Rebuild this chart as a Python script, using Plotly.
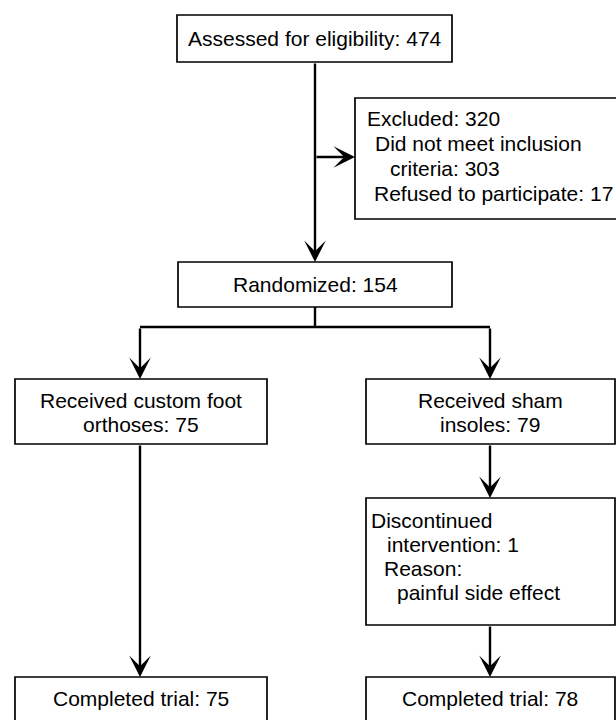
import plotly.graph_objects as go

# ---- data (participant flow) ----
stage_names = ["Assessed for eligibility", "Excluded", "Randomized",
               "Received custom foot orthoses", "Received sham insoles",
               "Discontinued intervention", "Completed trial", "Completed trial"]
stage_counts = [474, 320, 154, 75, 79, 1, 75, 78]
excluded_reasons = ["Did not meet inclusion criteria", "Refused to participate"]
excluded_counts = [303, 17]
discontinue_reason = "painful side effect"

FONT = dict(family="Liberation Sans, Arial, Helvetica, sans-serif", size=21, color="black")

fig = go.Figure()
shapes = []
annotations = []

def box(x0, y0, x1, y1):
    shapes.append(dict(type="rect", xref="x", yref="y", x0=x0, y0=y0, x1=x1, y1=y1,
                       line=dict(color="black", width=1.7), fillcolor="white", layer="above"))

def seg(x0, y0, x1, y1):
    shapes.append(dict(type="line", xref="x", yref="y", x0=x0, y0=y0, x1=x1, y1=y1,
                       line=dict(color="black", width=2.4), layer="above"))

def arrow(x0, y0, x1, y1):
    annotations.append(dict(x=x1, y=y1, ax=x0, ay=y0, xref="x", yref="y", axref="x", ayref="y",
                            text="", showarrow=True, arrowhead=3, arrowsize=1.5,
                            arrowwidth=2.4, arrowcolor="black", standoff=0))

def txt(x, y, s, anchor="center"):
    annotations.append(dict(x=x, y=y, xref="x", yref="y", text=s, showarrow=False,
                            xanchor=anchor, yanchor="middle", font=FONT))

# boxes
box(177, 15, 452, 62)      # assessed
box(355, 98, 620, 219)     # excluded
box(178, 262, 452, 307)    # randomized
box(15, 379, 267, 444)     # custom orthoses
box(366, 379, 615, 444)    # sham insoles
box(366, 498, 615, 625)    # discontinued
box(15, 677, 267, 722)     # completed left
box(366, 677, 615, 722)    # completed right

# connectors
arrow(315, 62, 315, 262)
arrow(315, 157, 355, 157)
seg(315, 307, 315, 327)
seg(140, 327, 490, 327)
arrow(140, 327, 140, 379)
arrow(490, 327, 490, 379)
arrow(140, 444, 140, 677)
arrow(490, 444, 490, 498)
arrow(490, 625, 490, 677)

# texts
txt(315, 38.5, f"{stage_names[0]}: {stage_counts[0]}")
txt(365, 118, f"{stage_names[1]}: {stage_counts[1]}", "left")
r0 = excluded_reasons[0].split(" ")
txt(373, 143, " ".join(r0[:-1]), "left")
txt(388, 168, f"{r0[-1]}: {excluded_counts[0]}", "left")
txt(372, 193, f"{excluded_reasons[1]}: {excluded_counts[1]}", "left")
txt(315, 284.5, f"{stage_names[2]}: {stage_counts[2]}")
w3 = stage_names[3].split(" ")
txt(141, 400, " ".join(w3[:-1]))
txt(141, 424, f"{w3[-1]}: {stage_counts[3]}")
w4 = stage_names[4].split(" ")
txt(490, 400, " ".join(w4[:-1]))
txt(490, 424, f"{w4[-1]}: {stage_counts[4]}")
w5 = stage_names[5].split(" ")
txt(369, 520, w5[0], "left")
txt(385, 544, f"{w5[1]}: {stage_counts[5]}", "left")
txt(382, 568, "Reason:", "left")
txt(395, 592, discontinue_reason, "left")
txt(141, 698, f"{stage_names[6]}: {stage_counts[6]}")
txt(490, 698, f"{stage_names[7]}: {stage_counts[7]}")

fig.update_layout(
    width=616, height=720, margin=dict(l=0, r=0, t=0, b=0, pad=0),
    paper_bgcolor="white", plot_bgcolor="white",
    xaxis=dict(range=[0, 616], visible=False, fixedrange=True),
    yaxis=dict(range=[720, 0], visible=False, fixedrange=True),
    shapes=shapes, annotations=annotations, showlegend=False,
)
fig.write_html(
    "out.html",
    config={"displayModeBar": False},
    post_script="document.body.style.margin='0';document.body.style.overflow='hidden';",
)
